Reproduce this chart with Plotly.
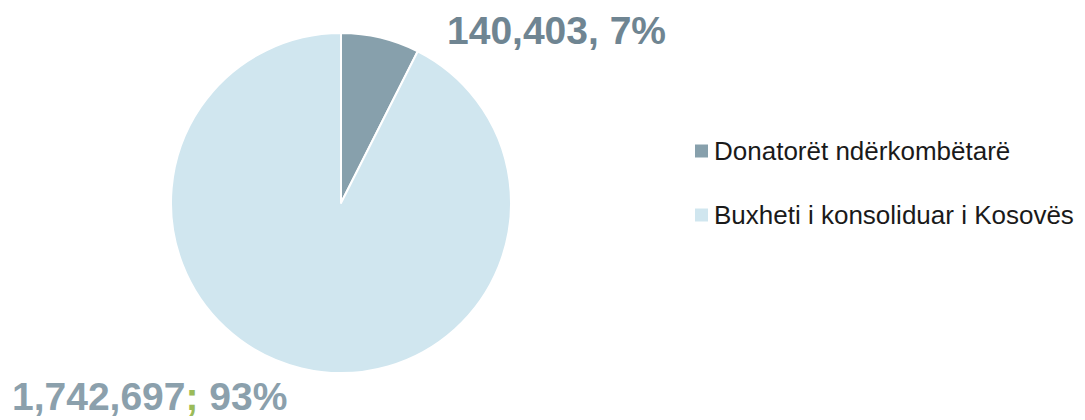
import plotly.graph_objects as go

labels = ["Donatorët ndërkombëtarë", "Buxheti i konsoliduar i Kosovës"]
values = [140403, 1742697]
colors = ["#87A0AC", "#D0E6EF"]
pct = [round(v / sum(values) * 100) for v in values]

W, H = 1085, 420
cx, cy, r = 341, 203, 170

fig = go.Figure(go.Pie(
    labels=labels, values=values, sort=False, direction="clockwise", rotation=0,
    marker=dict(colors=colors, line=dict(color="white", width=2)),
    textinfo="none", hoverinfo="label+value+percent", showlegend=False,
    domain=dict(x=[(cx - r) / W, (cx + r) / W], y=[1 - (cy + r) / H, 1 - (cy - r) / H]),
))

font = "Liberation Sans, Arial, Helvetica, sans-serif"
# data labels
fig.add_annotation(x=445 / W, y=1 - 31 / H, xref="paper", yref="paper", xanchor="left", yanchor="middle",
                   text=f"<b>{values[0]:,}, {pct[0]}%</b>", showarrow=False,
                   font=dict(family=font, size=39, color="#6F8592"))
fig.add_annotation(x=10 / W, y=0, xref="paper", yref="paper", xanchor="left", yanchor="bottom",
                   text=f"<b>{values[1]:,}<span style='color:#9BBB59'>;</span> {pct[1]}%</b>", showarrow=False,
                   font=dict(family=font, size=39, color="#8BA0AC"))

# legend
rows_y = [151, 215]
for lab, col, yy in zip(labels, colors, rows_y):
    fig.add_shape(type="rect", xref="paper", yref="paper",
                  x0=695 / W, x1=708 / W, y0=1 - (yy + 6.5) / H, y1=1 - (yy - 6.5) / H,
                  fillcolor=col, line=dict(width=0))
    fig.add_annotation(x=712 / W, y=1 - yy / H, xref="paper", yref="paper", xanchor="left", yanchor="middle",
                       text=lab, showarrow=False, font=dict(family=font, size=26, color="#1A1A1A"))

fig.update_layout(width=W, height=H, margin=dict(l=0, r=0, t=0, b=0),
                  paper_bgcolor="white", plot_bgcolor="white")
fig.write_html("out.html")
